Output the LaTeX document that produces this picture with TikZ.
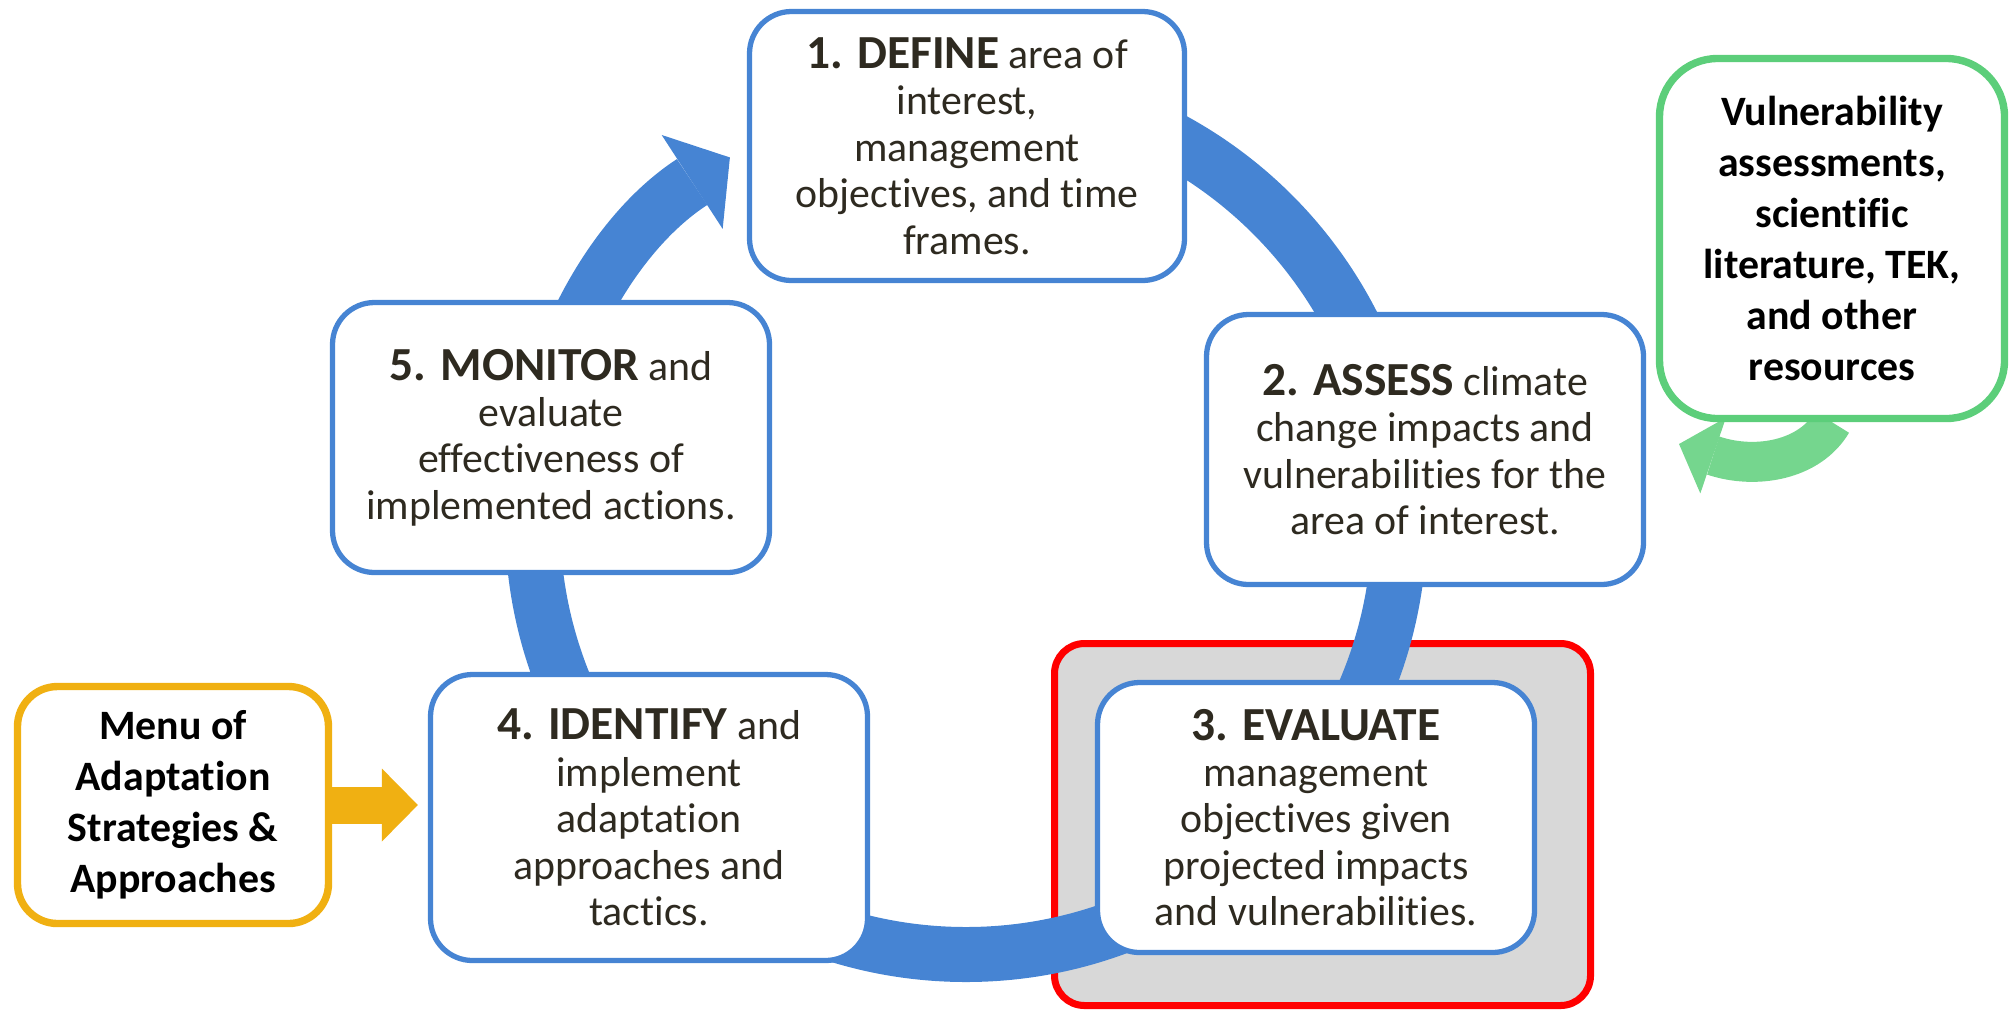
\documentclass[tikz,border=0pt]{standalone}
\usepackage{tikz}
\usepackage{xcolor}
\usepackage{fontspec}
\setmainfont{Carlito}[Ligatures=NoCommon]
\usetikzlibrary{arrows.meta,backgrounds}

\definecolor{ringblue}{RGB}{70,132,211}
\definecolor{ink}{RGB}{46,42,32}
\definecolor{leafgreen}{RGB}{92,206,122}
\definecolor{paleleaf}{RGB}{117,214,142}
\definecolor{amber}{RGB}{240,176,18}
\definecolor{framegray}{RGB}{216,216,216}

\newcommand{\stephead}[1]{{\fontsize{13.5}{13.2}\selectfont\bfseries #1}}

\begin{document}
\begin{tikzpicture}[
  stepbox/.style = {draw=ringblue, line width=1.5pt, fill=white, rounded corners=0.42cm,
    minimum width=4.37cm, minimum height=2.70cm, align=center, text=ink,
    font=\fontsize{11.9}{13.2}\selectfont},
  sidebox/.style = {line width=2.1pt, fill=white, align=center, text=black,
    font=\fontsize{11.9}{14.5}\selectfont\bfseries},
  ringarrow/.style = {ringblue, line width=0.55cm,
    -{Triangle[length=0.45cm, width=1.12cm, line width=0pt]}},
  feed/.style = {amber, line width=0.37cm,
    -{Triangle[length=0.36cm, width=0.73cm, line width=0pt]}},
  source/.style = {paleleaf, line width=0.40cm,
    -{Triangle[length=0.36cm, width=0.80cm, line width=0pt]}}
]
\useasboundingbox (0,0) rectangle (20.10,-10.10);

% the five steps
\node[stepbox, minimum width=4.35cm, minimum height=2.69cm] (1) at (9.67,-1.46)
  {\stephead{1. DEFINE} area of\\ interest,\\ management\\ objectives, and time\\ frames.};
\node[stepbox] (2) at (14.25,-4.495)
  {\stephead{2. ASSESS} climate\\ change impacts and\\ vulnerabilities for the\\ area of interest.};
\node[stepbox] (3) at (13.16,-8.175)
  {\stephead{3. EVALUATE}\\ management\\ objectives given\\ projected impacts\\ and vulnerabilities.};
\node[stepbox, minimum height=2.86cm] (4) at (6.49,-8.175)
  {\stephead{4. IDENTIFY} and\\ implement\\ adaptation\\ approaches and\\ tactics.};
\node[stepbox] (5) at (5.51,-4.375)
  {\stephead{5. MONITOR} and\\ evaluate\\ effectiveness of\\ implemented actions.};

% inputs
\node[sidebox, draw=amber, rounded corners=0.40cm, minimum width=3.11cm, minimum height=2.37cm]
  (menu) at (1.73,-8.05) {Menu of\\ Adaptation\\ Strategies \&\\ Approaches};
\node[sidebox, draw=leafgreen, rounded corners=0.58cm, minimum width=3.45cm, minimum height=3.60cm]
  (vuln) at (18.32,-2.385) {Vulnerability\\ assessments,\\ scientific\\ literature, TEK,\\ and other\\ resources};

\coordinate (c) at (9.66,-5.21);
\coordinate (gtip) at (16.79,-4.44);

\begin{scope}[on background layer]
  \node[draw=red, line width=2pt, fill=framegray, rounded corners=0.30cm,
    minimum width=5.36cm, minimum height=3.62cm] (focus) at (13.225,-8.245) {};
  \draw[ringarrow] (c) ++(90:4.335) arc[start angle=90, end angle=-237, radius=4.335];
  \draw[source] (vuln.south) .. controls (18.10,-4.60) and (17.56,-4.70) .. (gtip);
  \draw[feed, shorten >=0.10cm] (menu) -- (menu -| 4.west);
\end{scope}
\end{tikzpicture}
\end{document}
